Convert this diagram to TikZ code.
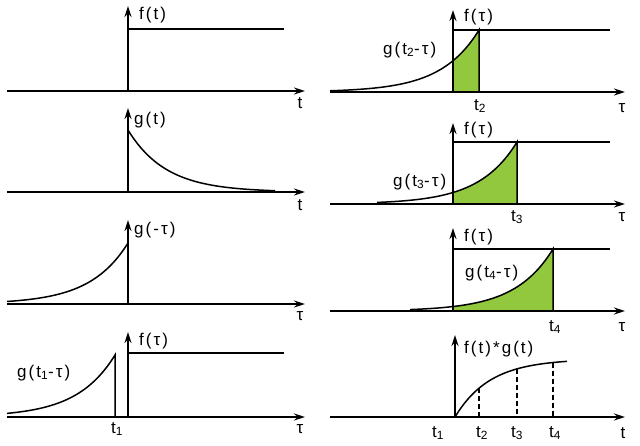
\documentclass[tikz,border=0pt]{standalone}
\usepackage{fontspec}
\setmainfont{Liberation Sans}
\newfontfamily\lblfont[LetterSpace=12]{Liberation Sans}
\usetikzlibrary{arrows.meta}
\definecolor{areagreen}{RGB}{146,200,62}

\begin{document}
\begin{tikzpicture}[
	x=1pt, y=-1pt,
	font=\lblfont\fontsize{17}{18}\selectfont,
	axis/.style={-{Stealth[length=11pt,width=7pt]}, line width=1.6pt},
	curve/.style={line width=1.5pt},
	stepline/.style={line width=1.5pt},
	guide/.style={dash pattern=on 5pt off 3pt, line width=1.3pt},
	lbl/.style={inner sep=0pt, anchor=west},
	tick/.style={inner sep=0pt},
	area/.style={fill=areagreen}
]
\useasboundingbox (0,0) rectangle (640,446);

% --- Left column ---
% f(t)
\draw[axis] (7,91) -- (305,91);
\draw[axis] (128,91) -- (128,6);
\draw[stepline] (128,29) -- (284,29);
\node[lbl] (fA) at (139,15) {f(t)};
\node[tick] (tA) at (300,103) {t};

% g(t)
\draw[axis] (7,192) -- (305,192);
\draw[axis] (128,192) -- (128,108);
\draw[curve] plot[domain=128:275, samples=60] (\x,{192-62*exp(-(\x-128)/38)});
\node[lbl] (gB) at (134,120) {g(t)};
\node[tick] (tB) at (300,205) {t};

% g(-tau)
\draw[axis] (7,304) -- (305,304);
\draw[axis] (128,304) -- (128,220);
\draw[curve] plot[domain=7:128, samples=60] (\x,{304-61*exp(-(128-\x)/38)});
\node[lbl] (gC) at (134,230) {g(-τ)};
\node[tick] (tC) at (300,316) {τ};

% g(t1-tau) and f(tau)
\draw[axis] (7,417) -- (305,417);
\draw[axis] (128,417) -- (128,332);
\draw[stepline] (128,353) -- (284,353);
\draw[curve] plot[domain=7:115, samples=60] (\x,{417-62*exp(-(115-\x)/38)}) -- (115,417);
\node[lbl] (fD) at (139,341) {f(τ)};
\node[lbl] (gD) at (17,373) {g(t\textsubscript{1}-τ)};
\node[tick] (t1D) at (117,429) {t\textsubscript{1}};
\node[tick] (tD) at (300,429) {τ};

% --- Right column ---
% t2
\fill[area] (453,92) -- plot[domain=453:479, samples=30] (\x,{92-62*exp(-(479-\x)/38)}) -- (479,92) -- cycle;
\draw[axis] (330,92) -- (625,92);
\draw[axis] (453,92) -- (453,10);
\draw[stepline] (453,30) -- (610,30);
\draw[curve] plot[domain=330:479, samples=80] (\x,{92-62*exp(-(479-\x)/38)}) -- (479,92);
\node[lbl] (fE) at (464,17) {f(τ)};
\node[lbl] (gE) at (383,50) {g(t\textsubscript{2}-τ)};
\node[tick] (t2E) at (480,106) {t\textsubscript{2}};
\node[tick] (tE) at (622,108) {τ};

% t3
\fill[area] (453,204) -- plot[domain=453:517, samples=40] (\x,{204-62*exp(-(517-\x)/38)}) -- (517,204) -- cycle;
\draw[axis] (330,204) -- (625,204);
\draw[axis] (453,204) -- (453,123);
\draw[stepline] (453,142) -- (610,142);
\draw[curve] plot[domain=377:517, samples=80] (\x,{204-62*exp(-(517-\x)/38)}) -- (517,204);
\node[lbl] (fF) at (464,130) {f(τ)};
\node[lbl] (gF) at (393,182) {g(t\textsubscript{3}-τ)};
\node[tick] (t3F) at (517,217) {t\textsubscript{3}};
\node[tick] (tF) at (622,217) {τ};

% t4
\fill[area] (453,311) -- plot[domain=453:553, samples=50] (\x,{311-62*exp(-(553-\x)/38)}) -- (553,311) -- cycle;
\draw[axis] (330,311) -- (625,311);
\draw[axis] (453,311) -- (453,228);
\draw[stepline] (453,249) -- (610,249);
\draw[curve] plot[domain=410:553, samples=80] (\x,{311-62*exp(-(553-\x)/38)}) -- (553,311);
\node[lbl] (fG) at (464,237) {f(τ)};
\node[lbl] (gG) at (465,273) {g(t\textsubscript{4}-τ)};
\node[tick] (t4G) at (555,327) {t\textsubscript{4}};
\node[tick] (tG) at (622,327) {τ};

% f(t)*g(t)
\draw[axis] (330,417) -- (625,417);
\draw[axis] (455,417) -- (455,335);
\draw[curve] plot[domain=455:567, samples=80] (\x,{417-58*(1-exp(-(\x-455)/35))});
\foreach \xx in {479,517,553}
	\draw[guide] (\xx,{417-58*(1-exp(-(\xx-455)/35))}) -- (\xx,417);
\node[lbl] (fgH) at (464,349) {f(t)*g(t)};
\node[tick] (t1H) at (438,433) {t\textsubscript{1}};
\node[tick] (t2H) at (482,433) {t\textsubscript{2}};
\node[tick] (t3H) at (517,433) {t\textsubscript{3}};
\node[tick] (t4H) at (555,433) {t\textsubscript{4}};
\node[tick] (tH) at (623,433) {t};

\end{tikzpicture}
\end{document}
